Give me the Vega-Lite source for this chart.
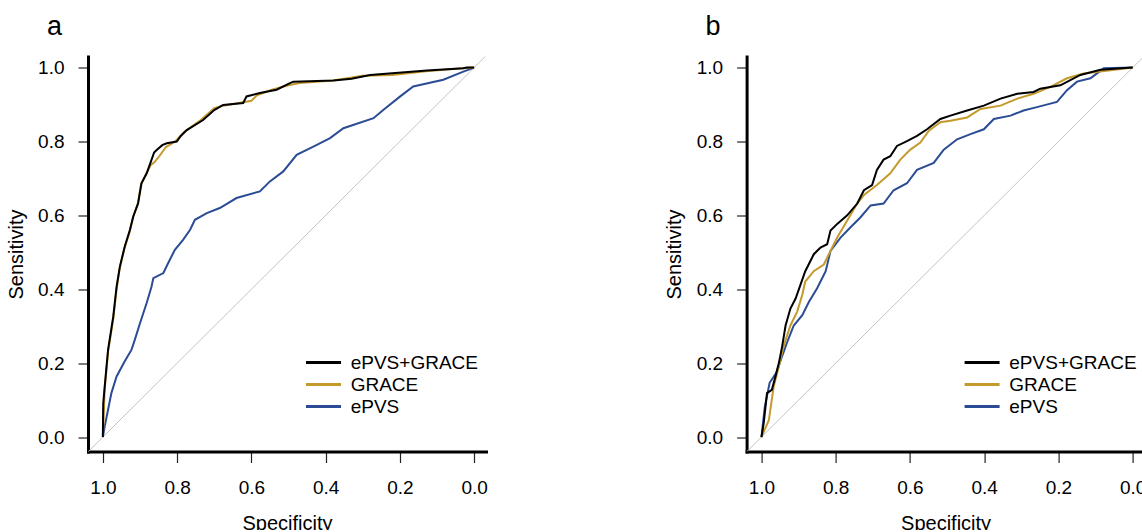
{
  "$schema": "https://vega.github.io/schema/vega-lite/v6.json",
  "padding": {"left": 6, "top": 12.5, "right": -4, "bottom": -4},
  "background": "white",
  "datasets": {
    "diag": [{"spec": 1.1, "sens": -0.1, "spec2": -0.1, "sens2": 1.1}],
    "a": [
      {"model": "ePVS", "spec": 1.0, "sens": 0.0},
      {"model": "ePVS", "spec": 0.995, "sens": 0.029},
      {"model": "ePVS", "spec": 0.986, "sens": 0.074},
      {"model": "ePVS", "spec": 0.977, "sens": 0.119},
      {"model": "ePVS", "spec": 0.963, "sens": 0.164},
      {"model": "ePVS", "spec": 0.941, "sens": 0.205},
      {"model": "ePVS", "spec": 0.923, "sens": 0.236},
      {"model": "ePVS", "spec": 0.914, "sens": 0.263},
      {"model": "ePVS", "spec": 0.9, "sens": 0.308},
      {"model": "ePVS", "spec": 0.882, "sens": 0.363},
      {"model": "ePVS", "spec": 0.869, "sens": 0.407},
      {"model": "ePVS", "spec": 0.864, "sens": 0.43},
      {"model": "ePVS", "spec": 0.837, "sens": 0.444},
      {"model": "ePVS", "spec": 0.824, "sens": 0.471},
      {"model": "ePVS", "spec": 0.806, "sens": 0.507},
      {"model": "ePVS", "spec": 0.784, "sens": 0.534},
      {"model": "ePVS", "spec": 0.765, "sens": 0.561},
      {"model": "ePVS", "spec": 0.752, "sens": 0.588},
      {"model": "ePVS", "spec": 0.72, "sens": 0.606},
      {"model": "ePVS", "spec": 0.685, "sens": 0.62},
      {"model": "ePVS", "spec": 0.64, "sens": 0.647},
      {"model": "ePVS", "spec": 0.577, "sens": 0.665},
      {"model": "ePVS", "spec": 0.55, "sens": 0.692},
      {"model": "ePVS", "spec": 0.514, "sens": 0.719},
      {"model": "ePVS", "spec": 0.478, "sens": 0.764},
      {"model": "ePVS", "spec": 0.433, "sens": 0.786},
      {"model": "ePVS", "spec": 0.388, "sens": 0.809},
      {"model": "ePVS", "spec": 0.352, "sens": 0.836},
      {"model": "ePVS", "spec": 0.271, "sens": 0.863},
      {"model": "ePVS", "spec": 0.244, "sens": 0.886},
      {"model": "ePVS", "spec": 0.199, "sens": 0.922},
      {"model": "ePVS", "spec": 0.164, "sens": 0.949},
      {"model": "ePVS", "spec": 0.083, "sens": 0.967},
      {"model": "ePVS", "spec": 0.029, "sens": 0.989},
      {"model": "ePVS", "spec": 0.0, "sens": 1.0},
      {"model": "GRACE", "spec": 1.0, "sens": 0.0},
      {"model": "GRACE", "spec": 0.995, "sens": 0.13},
      {"model": "GRACE", "spec": 0.986, "sens": 0.23},
      {"model": "GRACE", "spec": 0.972, "sens": 0.32},
      {"model": "GRACE", "spec": 0.963, "sens": 0.4},
      {"model": "GRACE", "spec": 0.955, "sens": 0.455},
      {"model": "GRACE", "spec": 0.942, "sens": 0.51},
      {"model": "GRACE", "spec": 0.928, "sens": 0.555},
      {"model": "GRACE", "spec": 0.919, "sens": 0.595},
      {"model": "GRACE", "spec": 0.906, "sens": 0.63},
      {"model": "GRACE", "spec": 0.897, "sens": 0.685},
      {"model": "GRACE", "spec": 0.884, "sens": 0.71},
      {"model": "GRACE", "spec": 0.872, "sens": 0.735},
      {"model": "GRACE", "spec": 0.86, "sens": 0.745},
      {"model": "GRACE", "spec": 0.848, "sens": 0.76},
      {"model": "GRACE", "spec": 0.83, "sens": 0.785},
      {"model": "GRACE", "spec": 0.805, "sens": 0.8},
      {"model": "GRACE", "spec": 0.782, "sens": 0.825},
      {"model": "GRACE", "spec": 0.74, "sens": 0.855},
      {"model": "GRACE", "spec": 0.7, "sens": 0.89},
      {"model": "GRACE", "spec": 0.676, "sens": 0.897},
      {"model": "GRACE", "spec": 0.63, "sens": 0.905},
      {"model": "GRACE", "spec": 0.6, "sens": 0.91},
      {"model": "GRACE", "spec": 0.585, "sens": 0.925},
      {"model": "GRACE", "spec": 0.545, "sens": 0.94},
      {"model": "GRACE", "spec": 0.5, "sens": 0.952},
      {"model": "GRACE", "spec": 0.47, "sens": 0.958},
      {"model": "GRACE", "spec": 0.38, "sens": 0.965},
      {"model": "GRACE", "spec": 0.3, "sens": 0.978},
      {"model": "GRACE", "spec": 0.22, "sens": 0.98},
      {"model": "GRACE", "spec": 0.13, "sens": 0.99},
      {"model": "GRACE", "spec": 0.03, "sens": 0.998},
      {"model": "GRACE", "spec": 0.0, "sens": 1.0},
      {"model": "ePVS+GRACE", "spec": 1.0, "sens": 0.0},
      {"model": "ePVS+GRACE", "spec": 0.999, "sens": 0.09},
      {"model": "ePVS+GRACE", "spec": 0.995, "sens": 0.137},
      {"model": "ePVS+GRACE", "spec": 0.986, "sens": 0.236},
      {"model": "ePVS+GRACE", "spec": 0.972, "sens": 0.326},
      {"model": "ePVS+GRACE", "spec": 0.963, "sens": 0.407},
      {"model": "ePVS+GRACE", "spec": 0.954, "sens": 0.462},
      {"model": "ePVS+GRACE", "spec": 0.941, "sens": 0.516},
      {"model": "ePVS+GRACE", "spec": 0.927, "sens": 0.561},
      {"model": "ePVS+GRACE", "spec": 0.918, "sens": 0.597},
      {"model": "ePVS+GRACE", "spec": 0.905, "sens": 0.633},
      {"model": "ePVS+GRACE", "spec": 0.896, "sens": 0.687},
      {"model": "ePVS+GRACE", "spec": 0.882, "sens": 0.714},
      {"model": "ePVS+GRACE", "spec": 0.869, "sens": 0.75},
      {"model": "ePVS+GRACE", "spec": 0.862, "sens": 0.77},
      {"model": "ePVS+GRACE", "spec": 0.855, "sens": 0.777},
      {"model": "ePVS+GRACE", "spec": 0.84, "sens": 0.79},
      {"model": "ePVS+GRACE", "spec": 0.828, "sens": 0.795},
      {"model": "ePVS+GRACE", "spec": 0.801, "sens": 0.8},
      {"model": "ePVS+GRACE", "spec": 0.79, "sens": 0.815},
      {"model": "ePVS+GRACE", "spec": 0.774, "sens": 0.831},
      {"model": "ePVS+GRACE", "spec": 0.73, "sens": 0.858},
      {"model": "ePVS+GRACE", "spec": 0.7, "sens": 0.885},
      {"model": "ePVS+GRACE", "spec": 0.676, "sens": 0.899},
      {"model": "ePVS+GRACE", "spec": 0.622, "sens": 0.904},
      {"model": "ePVS+GRACE", "spec": 0.613, "sens": 0.922},
      {"model": "ePVS+GRACE", "spec": 0.577, "sens": 0.931},
      {"model": "ePVS+GRACE", "spec": 0.532, "sens": 0.94},
      {"model": "ePVS+GRACE", "spec": 0.496, "sens": 0.958},
      {"model": "ePVS+GRACE", "spec": 0.487, "sens": 0.962},
      {"model": "ePVS+GRACE", "spec": 0.379, "sens": 0.965},
      {"model": "ePVS+GRACE", "spec": 0.33, "sens": 0.97},
      {"model": "ePVS+GRACE", "spec": 0.28, "sens": 0.98},
      {"model": "ePVS+GRACE", "spec": 0.127, "sens": 0.992},
      {"model": "ePVS+GRACE", "spec": 0.029, "sens": 0.998},
      {"model": "ePVS+GRACE", "spec": 0.02, "sens": 1.0},
      {"model": "ePVS+GRACE", "spec": 0.0, "sens": 1.0}
    ],
    "b": [
      {"model": "ePVS", "spec": 1.0, "sens": 0.0},
      {"model": "ePVS", "spec": 0.991, "sens": 0.082},
      {"model": "ePVS", "spec": 0.978, "sens": 0.147},
      {"model": "ePVS", "spec": 0.96, "sens": 0.174},
      {"model": "ePVS", "spec": 0.944, "sens": 0.22},
      {"model": "ePVS", "spec": 0.931, "sens": 0.256},
      {"model": "ePVS", "spec": 0.913, "sens": 0.302},
      {"model": "ePVS", "spec": 0.89, "sens": 0.33},
      {"model": "ePVS", "spec": 0.872, "sens": 0.366},
      {"model": "ePVS", "spec": 0.85, "sens": 0.403},
      {"model": "ePVS", "spec": 0.827, "sens": 0.449},
      {"model": "ePVS", "spec": 0.814, "sens": 0.504},
      {"model": "ePVS", "spec": 0.787, "sens": 0.54},
      {"model": "ePVS", "spec": 0.76, "sens": 0.568},
      {"model": "ePVS", "spec": 0.733, "sens": 0.595},
      {"model": "ePVS", "spec": 0.706, "sens": 0.627},
      {"model": "ePVS", "spec": 0.671, "sens": 0.632},
      {"model": "ePVS", "spec": 0.644, "sens": 0.668},
      {"model": "ePVS", "spec": 0.608, "sens": 0.687},
      {"model": "ePVS", "spec": 0.581, "sens": 0.723},
      {"model": "ePVS", "spec": 0.536, "sens": 0.742},
      {"model": "ePVS", "spec": 0.509, "sens": 0.778},
      {"model": "ePVS", "spec": 0.473, "sens": 0.806},
      {"model": "ePVS", "spec": 0.437, "sens": 0.82},
      {"model": "ePVS", "spec": 0.401, "sens": 0.833},
      {"model": "ePVS", "spec": 0.374, "sens": 0.861},
      {"model": "ePVS", "spec": 0.329, "sens": 0.87},
      {"model": "ePVS", "spec": 0.294, "sens": 0.884},
      {"model": "ePVS", "spec": 0.258, "sens": 0.893},
      {"model": "ePVS", "spec": 0.204, "sens": 0.907},
      {"model": "ePVS", "spec": 0.177, "sens": 0.939},
      {"model": "ePVS", "spec": 0.15, "sens": 0.962},
      {"model": "ePVS", "spec": 0.114, "sens": 0.971},
      {"model": "ePVS", "spec": 0.078, "sens": 0.998},
      {"model": "ePVS", "spec": 0.0, "sens": 1.0},
      {"model": "GRACE", "spec": 1.0, "sens": 0.0},
      {"model": "GRACE", "spec": 0.98, "sens": 0.046},
      {"model": "GRACE", "spec": 0.967, "sens": 0.137},
      {"model": "GRACE", "spec": 0.953, "sens": 0.192},
      {"model": "GRACE", "spec": 0.94, "sens": 0.247},
      {"model": "GRACE", "spec": 0.922, "sens": 0.302},
      {"model": "GRACE", "spec": 0.904, "sens": 0.339},
      {"model": "GRACE", "spec": 0.89, "sens": 0.385},
      {"model": "GRACE", "spec": 0.882, "sens": 0.421},
      {"model": "GRACE", "spec": 0.859, "sens": 0.449},
      {"model": "GRACE", "spec": 0.832, "sens": 0.467},
      {"model": "GRACE", "spec": 0.814, "sens": 0.504},
      {"model": "GRACE", "spec": 0.796, "sens": 0.54},
      {"model": "GRACE", "spec": 0.769, "sens": 0.586},
      {"model": "GRACE", "spec": 0.742, "sens": 0.632},
      {"model": "GRACE", "spec": 0.724, "sens": 0.655},
      {"model": "GRACE", "spec": 0.689, "sens": 0.682},
      {"model": "GRACE", "spec": 0.653, "sens": 0.714},
      {"model": "GRACE", "spec": 0.626, "sens": 0.751},
      {"model": "GRACE", "spec": 0.599, "sens": 0.778},
      {"model": "GRACE", "spec": 0.572, "sens": 0.797},
      {"model": "GRACE", "spec": 0.549, "sens": 0.829},
      {"model": "GRACE", "spec": 0.518, "sens": 0.852},
      {"model": "GRACE", "spec": 0.491, "sens": 0.856},
      {"model": "GRACE", "spec": 0.446, "sens": 0.865},
      {"model": "GRACE", "spec": 0.41, "sens": 0.888},
      {"model": "GRACE", "spec": 0.356, "sens": 0.897},
      {"model": "GRACE", "spec": 0.311, "sens": 0.916},
      {"model": "GRACE", "spec": 0.267, "sens": 0.929},
      {"model": "GRACE", "spec": 0.222, "sens": 0.948},
      {"model": "GRACE", "spec": 0.177, "sens": 0.971},
      {"model": "GRACE", "spec": 0.132, "sens": 0.984},
      {"model": "GRACE", "spec": 0.0, "sens": 1.0},
      {"model": "ePVS+GRACE", "spec": 1.0, "sens": 0.0},
      {"model": "ePVS+GRACE", "spec": 0.994, "sens": 0.037},
      {"model": "ePVS+GRACE", "spec": 0.985, "sens": 0.119},
      {"model": "ePVS+GRACE", "spec": 0.972, "sens": 0.128},
      {"model": "ePVS+GRACE", "spec": 0.962, "sens": 0.165},
      {"model": "ePVS+GRACE", "spec": 0.953, "sens": 0.201},
      {"model": "ePVS+GRACE", "spec": 0.944, "sens": 0.247},
      {"model": "ePVS+GRACE", "spec": 0.935, "sens": 0.302},
      {"model": "ePVS+GRACE", "spec": 0.922, "sens": 0.348},
      {"model": "ePVS+GRACE", "spec": 0.908, "sens": 0.375},
      {"model": "ePVS+GRACE", "spec": 0.895, "sens": 0.412},
      {"model": "ePVS+GRACE", "spec": 0.882, "sens": 0.449},
      {"model": "ePVS+GRACE", "spec": 0.859, "sens": 0.495},
      {"model": "ePVS+GRACE", "spec": 0.841, "sens": 0.513},
      {"model": "ePVS+GRACE", "spec": 0.823, "sens": 0.522},
      {"model": "ePVS+GRACE", "spec": 0.814, "sens": 0.559},
      {"model": "ePVS+GRACE", "spec": 0.796, "sens": 0.577},
      {"model": "ePVS+GRACE", "spec": 0.769, "sens": 0.6},
      {"model": "ePVS+GRACE", "spec": 0.742, "sens": 0.632},
      {"model": "ePVS+GRACE", "spec": 0.724, "sens": 0.668},
      {"model": "ePVS+GRACE", "spec": 0.702, "sens": 0.682},
      {"model": "ePVS+GRACE", "spec": 0.689, "sens": 0.723},
      {"model": "ePVS+GRACE", "spec": 0.671, "sens": 0.751},
      {"model": "ePVS+GRACE", "spec": 0.653, "sens": 0.76},
      {"model": "ePVS+GRACE", "spec": 0.635, "sens": 0.788},
      {"model": "ePVS+GRACE", "spec": 0.608, "sens": 0.801},
      {"model": "ePVS+GRACE", "spec": 0.581, "sens": 0.815},
      {"model": "ePVS+GRACE", "spec": 0.554, "sens": 0.833},
      {"model": "ePVS+GRACE", "spec": 0.518, "sens": 0.861},
      {"model": "ePVS+GRACE", "spec": 0.491, "sens": 0.87},
      {"model": "ePVS+GRACE", "spec": 0.446, "sens": 0.884},
      {"model": "ePVS+GRACE", "spec": 0.401, "sens": 0.897},
      {"model": "ePVS+GRACE", "spec": 0.356, "sens": 0.916},
      {"model": "ePVS+GRACE", "spec": 0.311, "sens": 0.929},
      {"model": "ePVS+GRACE", "spec": 0.267, "sens": 0.934},
      {"model": "ePVS+GRACE", "spec": 0.249, "sens": 0.943},
      {"model": "ePVS+GRACE", "spec": 0.195, "sens": 0.952},
      {"model": "ePVS+GRACE", "spec": 0.141, "sens": 0.98},
      {"model": "ePVS+GRACE", "spec": 0.087, "sens": 0.994},
      {"model": "ePVS+GRACE", "spec": 0.0, "sens": 1.0}
    ]
  },
  "spacing": 176.6,
  "resolve": {"legend": {"color": "independent"}},
  "hconcat": [
    {
      "width": 398,
      "height": 395,
      "title": {"text": "a"},
      "layer": [
        {
          "data": {"name": "diag"},
          "mark": {"type": "rule", "clip": true, "color": "#c4c4c4", "strokeWidth": 1},
          "encoding": {
            "x": {"field": "spec", "type": "quantitative"},
            "y": {"field": "sens", "type": "quantitative"},
            "x2": {"field": "spec2"},
            "y2": {"field": "sens2"}
          }
        },
        {
          "data": {"name": "a"},
          "mark": {"type": "line", "strokeWidth": 2},
          "encoding": {
            "x": {"field": "spec", "type": "quantitative", "scale": {"domain": [-0.032, 1.04], "reverse": true, "nice": false, "zero": false}, "axis": {"title": "Specificity", "values": [0, 0.2, 0.4, 0.6, 0.8, 1], "format": ".1f"}},
            "y": {"field": "sens", "type": "quantitative", "scale": {"domain": [-0.039, 1.03], "nice": false, "zero": false}, "axis": {"title": "Sensitivity", "values": [0, 0.2, 0.4, 0.6, 0.8, 1], "format": ".1f"}},
            "color": {"field": "model", "type": "nominal", "scale": {"domain": ["ePVS+GRACE", "GRACE", "ePVS"], "range": ["#000000", "#C49A2C", "#2B4C94"]}}
          }
        }
      ]
    },
    {
      "width": 398,
      "height": 395,
      "title": {"text": "b"},
      "layer": [
        {
          "data": {"name": "diag"},
          "mark": {"type": "rule", "clip": true, "color": "#c4c4c4", "strokeWidth": 1},
          "encoding": {
            "x": {"field": "spec", "type": "quantitative"},
            "y": {"field": "sens", "type": "quantitative"},
            "x2": {"field": "spec2"},
            "y2": {"field": "sens2"}
          }
        },
        {
          "data": {"name": "b"},
          "mark": {"type": "line", "strokeWidth": 2},
          "encoding": {
            "x": {"field": "spec", "type": "quantitative", "scale": {"domain": [-0.032, 1.04], "reverse": true, "nice": false, "zero": false}, "axis": {"title": "Specificity", "values": [0, 0.2, 0.4, 0.6, 0.8, 1], "format": ".1f"}},
            "y": {"field": "sens", "type": "quantitative", "scale": {"domain": [-0.039, 1.03], "nice": false, "zero": false}, "axis": {"title": "Sensitivity", "values": [0, 0.2, 0.4, 0.6, 0.8, 1], "format": ".1f"}},
            "color": {"field": "model", "type": "nominal", "scale": {"domain": ["ePVS+GRACE", "GRACE", "ePVS"], "range": ["#000000", "#C49A2C", "#2B4C94"]}}
          }
        }
      ]
    }
  ],
  "config": {
    "view": {"stroke": null},
    "font": "Liberation Sans",
    "axis": {
      "grid": false,
      "domainColor": "#000000",
      "domainWidth": 3,
      "domainCap": "square",
      "tickColor": "#222222",
      "tickWidth": 1.2,
      "labelFont": "Liberation Sans",
      "labelFontSize": 19,
      "labelColor": "#000000",
      "labelFlush": false,
      "labelOverlap": false,
      "labelAngle": 0,
      "titleFont": "Liberation Sans",
      "titleFontSize": 20,
      "titleFontWeight": "normal",
      "titleColor": "#000000"
    },
    "axisX": {"tickSize": 11, "labelPadding": 16, "titlePadding": 15.5},
    "axisY": {"tickSize": 10, "labelPadding": 14, "titlePadding": 11.5},
    "legend": {
      "orient": "none",
      "legendX": 226,
      "legendY": 296.5,
      "title": null,
      "symbolType": "M-3,0H3",
      "symbolSize": 136,
      "symbolStrokeWidth": 3,
      "labelFont": "Liberation Sans",
      "labelFontSize": 19,
      "labelColor": "#000000",
      "labelOffset": 17.7,
      "rowPadding": 2,
      "padding": 0
    },
    "title": {
      "anchor": "start",
      "frame": "group",
      "dx": -41,
      "baseline": "alphabetic",
      "offset": 16,
      "fontSize": 27,
      "font": "Liberation Sans",
      "fontWeight": "normal",
      "color": "#000000"
    }
  }
}
